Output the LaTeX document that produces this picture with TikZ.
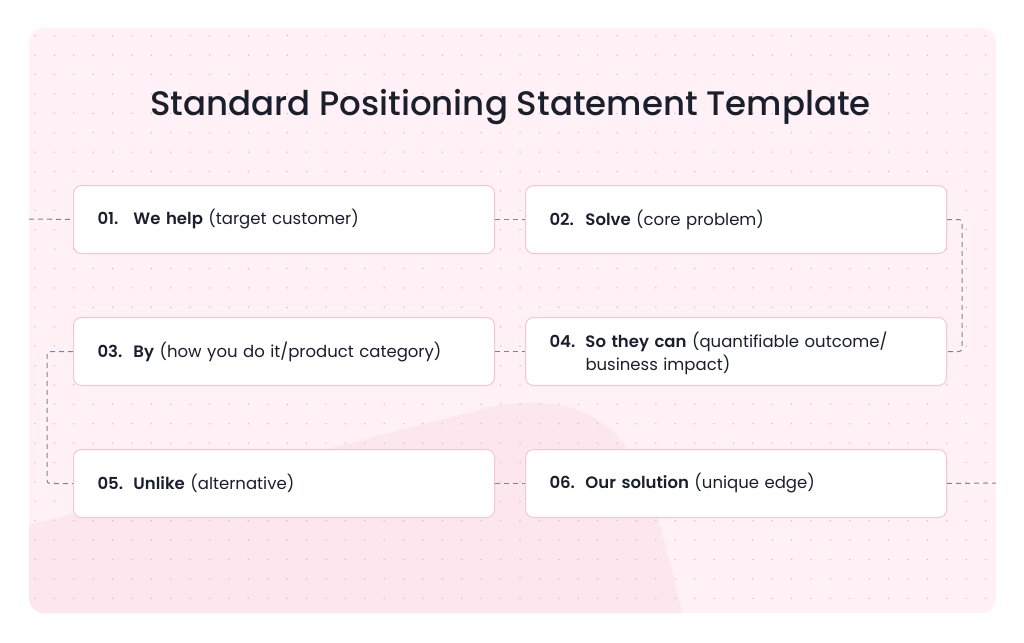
\documentclass[tikz,border=0pt]{standalone}
\usepackage{fontspec}
\setmainfont{Poppins}[BoldFont={* SemiBold}]
\newfontfamily\titlefont{Poppins Medium}
\definecolor{panel}{HTML}{FFF1F5}
\definecolor{blob}{HTML}{FDE7EE}
\definecolor{dotc}{HTML}{CDBAC3}
\definecolor{cardline}{HTML}{F5C5D3}
\definecolor{ink}{HTML}{1A1F2E}
\definecolor{conn}{HTML}{7E838E}
\newcommand{\stepno}[1]{\makebox[36pt][l]{\textbf{#1}}}
\begin{document}
\begin{tikzpicture}[x=1pt,y=-1pt,
  card/.style={draw=cardline, line width=1pt, fill=white, rounded corners=8pt,
    minimum width=421pt, minimum height=68pt, inner xsep=24pt, inner ysep=0pt,
    text width=373pt, align=left, anchor=north west, text=ink,
    font=\fontsize{16.5pt}{23pt}\selectfont},
  connline/.style={draw=conn, line width=1pt, dash pattern=on 5pt off 4pt, rounded corners=3pt}]
\useasboundingbox (0,0) rectangle (1024,642);
\fill[white] (0,0) rectangle (1024,642);
\fill[panel, rounded corners=15pt] (29,28) rectangle (996,613);
\begin{scope}
  \clip[rounded corners=15pt] (29,28) rectangle (996,613);
  \fill[blob] (29,525) -- (440,420) .. controls (480,410) and (500,403) .. (525,403)
    .. controls (585,400) and (625,430) .. (645,480)
    .. controls (660,520) and (672,570) .. (682,613) -- (29,613) -- cycle;
\end{scope}
\foreach \i in {0,...,49}
  \foreach \j in {0,...,29}
    \fill[dotc] ({35+\i*19.4},{35.7+\j*19.4}) circle (0.75pt);
\node[anchor=base, text=ink, font=\titlefont\fontsize{34pt}{38pt}\selectfont] (title) at (510.5,115) {Standard Positioning Statement Template};
\node[card] (b1) at (73,185) {\stepno{01.}\textbf{We help} (target customer)};
\node[card] (b2) at (525,185) {\stepno{02.}\textbf{Solve} (core problem)};
\node[card] (b3) at (73,317) {\stepno{03.}\textbf{By} (how you do it/product category)};
\node[card] (b4) at (525,317) {\stepno{04.}\parbox[t]{330pt}{\rule{0pt}{19pt}\textbf{So they can} (quantifiable outcome/\\business impact)}};
\node[card] (b5) at (73,449) {\stepno{05.}\textbf{Unlike} (alternative)};
\node[card] (b6) at (525,449) {\stepno{06.}\textbf{Our solution} (unique edge)};
\coordinate (L1) at (29,219);
\coordinate (R6) at (996,483);
\draw[connline] (L1) -- (b1.west);
\draw[connline] (b1.east) -- (b2.west);
\draw[connline] (b2.east) -- ++(15,0) |- (b4.east);
\draw[connline] (b3.east) -- (b4.west);
\draw[connline] (b3.west) -- ++(-26,0) |- (b5.west);
\draw[connline] (b5.east) -- (b6.west);
\draw[connline] (b6.east) -- (R6);
\end{tikzpicture}
\end{document}
